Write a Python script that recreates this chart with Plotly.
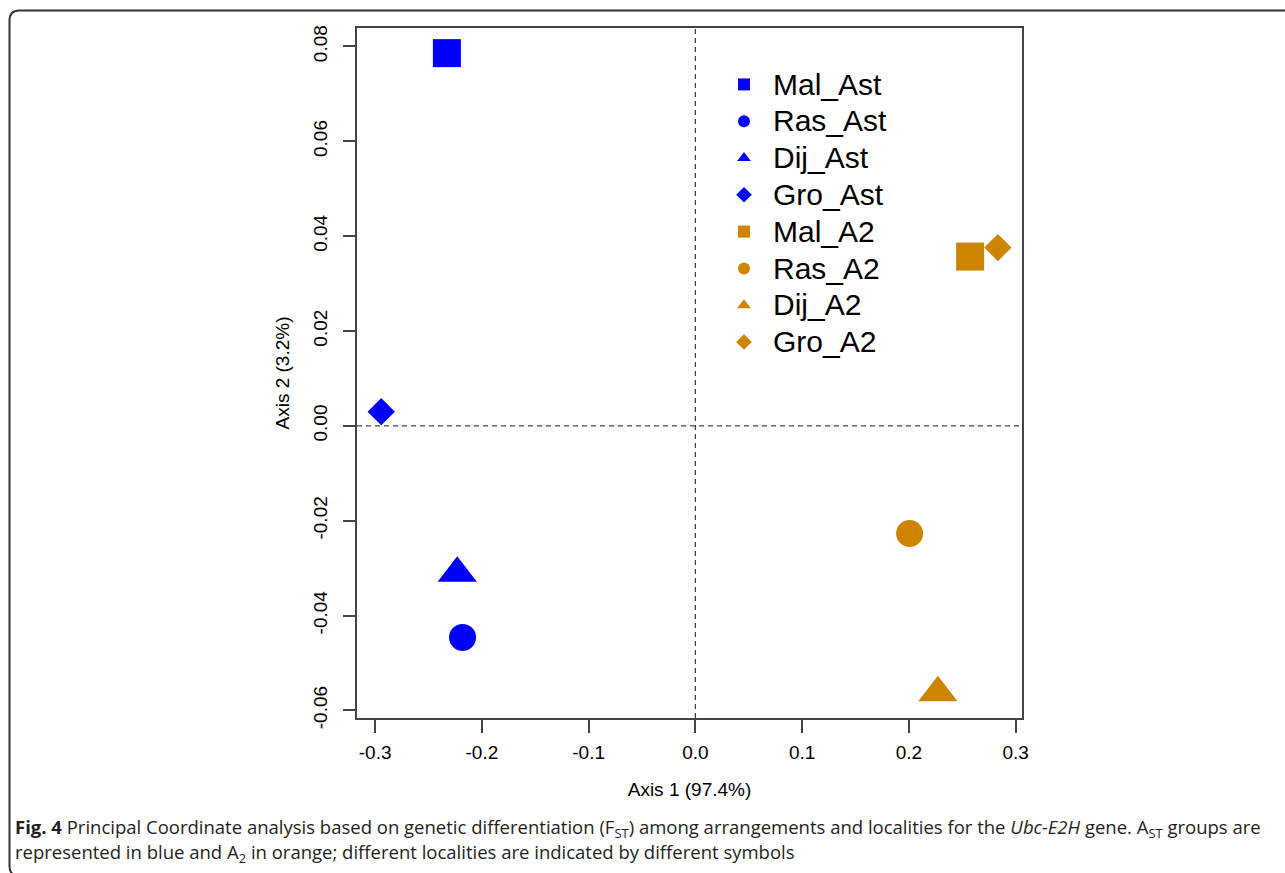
import plotly.graph_objects as go

# ---- data ----
names = ["Mal_Ast", "Ras_Ast", "Dij_Ast", "Gro_Ast", "Mal_A2", "Ras_A2", "Dij_A2", "Gro_A2"]
axis1 = [-0.2328, -0.2181, -0.2231, -0.2943, 0.2574, 0.2007, 0.2272, 0.2834]
axis2 = [0.0786, -0.0446, -0.0311, 0.0030, 0.0357, -0.0227, -0.0563, 0.0376]
symbols = ["square", "circle", "triangle-up", "diamond", "square", "circle", "triangle-up", "diamond"]
sizes = [28, 27, 34, 21, 28, 27, 34, 21]
colors = ["#0000FF"] * 4 + ["#CD8500"] * 4

x_tickvals = [-0.3, -0.2, -0.1, 0.0, 0.1, 0.2, 0.3]
x_ticktext = ["-0.3", "-0.2", "-0.1", "0.0", "0.1", "0.2", "0.3"]
y_tickvals = [-0.06, -0.04, -0.02, 0.00, 0.02, 0.04, 0.06, 0.08]
y_ticktext = ["-0.06", "-0.04", "-0.02", "0.00", "0.02", "0.04", "0.06", "0.08"]

W, H = 1285, 873
ML, MR, MT, MB = 357, 263, 28, 155
PW, PH = W - ML - MR, H - MT - MB


def px(xp):
    return (xp - ML) / PW


def py(yp):
    return (H - MB - yp) / PH


fig = go.Figure()
for i, n in enumerate(names):
    fig.add_trace(go.Scatter(
        x=[axis1[i]], y=[axis2[i]], mode="markers",
        name='<span style="font-size:30px">%s</span>' % n,
        marker=dict(symbol=symbols[i], size=sizes[i], color=colors[i], line=dict(width=0)),
    ))

fig.add_vline(x=0, line=dict(color="#444444", width=1.3, dash="5px,4px"))
fig.add_hline(y=0, line=dict(color="#444444", width=1.3, dash="5px,4px"))

axis_font = dict(family="Liberation Sans, Arial, sans-serif", size=19, color="#000000")

fig.update_xaxes(
    range=[-0.317, 0.306], tickvals=x_tickvals, ticktext=x_ticktext,
    showgrid=False, zeroline=False, showline=True, mirror=True,
    linecolor="#444444", linewidth=1.5, ticks="outside", ticklen=13,
    tickcolor="#444444", tickwidth=1.5, tickfont=axis_font, ticklabelstandoff=3,
    title=dict(text="Axis 1 (97.4%)", font=axis_font, standoff=21),
)
fig.update_yaxes(
    range=[-0.0616, 0.0839], tickvals=y_tickvals, ticktext=y_ticktext,
    showgrid=False, zeroline=False, showline=True, mirror=True,
    linecolor="#444444", linewidth=1.5, ticks="outside", ticklen=12,
    tickcolor="#444444", tickwidth=1.5, tickfont=axis_font, tickangle=-90,
    ticklabelstandoff=9,
    title=dict(text="Axis 2 (3.2%)", font=axis_font, standoff=15),
)

# figure frame (rounded corner box of the journal figure)
frame = "M %f,%f L %f,%f Q %f,%f %f,%f L %f,%f Q %f,%f %f,%f L %f,%f" % (
    px(1300), py(10.5), px(19.5), py(10.5), px(9.5), py(10.5), px(9.5), py(20.5),
    px(9.5), py(866), px(9.5), py(876), px(19.5), py(876), px(1300), py(876))
fig.add_shape(type="path", path=frame, xref="paper", yref="paper",
              line=dict(color="#333333", width=2))

cap_font = dict(family="Open Sans, sans-serif", size=18.5, color="#231F20")
fig.add_annotation(
    text="<b>Fig. 4</b> Principal Coordinate analysis based on genetic differentiation (F<sub>ST</sub>) "
         "among arrangements and localities for the <i>Ubc-E2H</i> gene. A<sub>ST</sub> groups are",
    xref="paper", yref="paper", x=px(13), y=py(828), xanchor="left", yanchor="middle",
    showarrow=False, font=cap_font, align="left")
fig.add_annotation(
    text="represented in blue and A<sub>2</sub> in orange; different localities are indicated by different symbols",
    xref="paper", yref="paper", x=px(13), y=py(853), xanchor="left", yanchor="middle",
    showarrow=False, font=cap_font, align="left")

fig.update_layout(
    width=W, height=H,
    margin=dict(l=ML, r=MR, t=MT, b=MB, autoexpand=False),
    paper_bgcolor="white", plot_bgcolor="white",
    showlegend=True,
    legend=dict(
        x=px(715), y=py(61), xanchor="left", yanchor="top",
        bgcolor="rgba(0,0,0,0)", borderwidth=0,
        font=dict(family="Liberation Sans, Arial, sans-serif", size=26, color="#000000"),
        itemsizing="constant", itemwidth=48,
    ),
)

fig.write_html("out.html", config={"displayModeBar": False},
               post_script="document.body.style.margin='0px';")
